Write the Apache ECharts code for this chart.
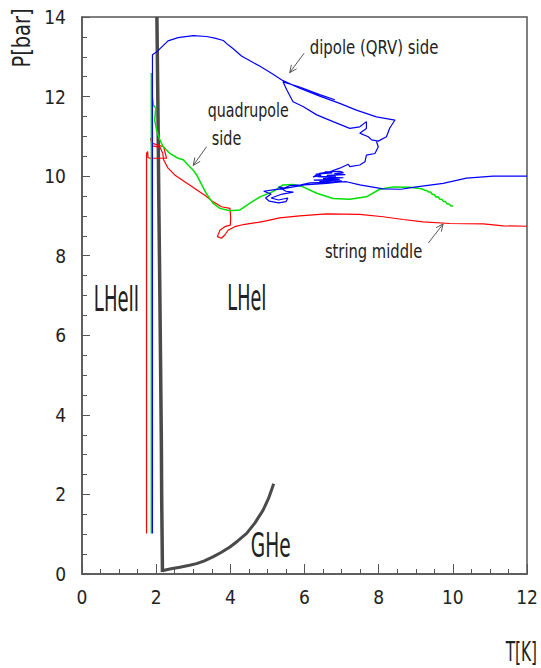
<!DOCTYPE html>
<html>
<head>
<meta charset="utf-8">
<script src="https://cdn.jsdelivr.net/npm/echarts@6/dist/echarts.min.js"></script>
<style>
  html, body { margin: 0; padding: 0; background: #fff; }
  #chart { width: 541px; height: 668px; }
</style>
</head>
<body>
<div id="chart"></div>
<script>
// ---------------- data (T in K, P in bar) ----------------
const xTicks = [0, 2, 4, 6, 8, 10, 12];
const yTicks = [0, 2, 4, 6, 8, 10, 12, 14];

const lambdaLine = [[2.17,0.05],[2.15,1.8],[2.14,3.3],[2.10,7.0],[2.07,9.5],[2.05,11.5],[2.02,14.0]];

const gheCurve = [[2.17,0.06],[2.19,0.09],[2.40,0.13],[2.64,0.17],[2.90,0.22],[3.09,0.26],[3.30,0.33],
  [3.53,0.43],[3.75,0.54],[3.99,0.68],[4.20,0.83],[4.44,1.02],[4.66,1.28],[4.88,1.60],[5.03,1.90],[5.17,2.27]];

const stringMiddle = [
  [1.74,1.02],[1.74,10.57],[1.77,10.62],[1.78,10.47],[1.83,10.45],[2.28,10.45],[2.20,10.74],[1.88,10.83],
  [1.85,10.96],[1.89,10.76],[2.10,10.73],[2.18,10.57],[2.20,10.41],[2.32,10.20],[2.50,10.03],[2.77,9.86],
  [3.04,9.69],[3.31,9.52],[3.53,9.36],[3.76,9.23],[3.99,9.19],[4.01,8.94],[4.00,8.77],[3.85,8.73],
  [3.72,8.64],[3.65,8.48],[3.76,8.44],[3.85,8.52],[3.94,8.64],[4.12,8.73],[4.39,8.79],[4.75,8.84],
  [4.93,8.87],[5.33,8.95],[5.87,9.00],[6.59,9.05],[7.49,9.04],[8.12,8.98],[8.66,8.91],[9.20,8.85],
  [9.92,8.81],[10.82,8.80],[11.36,8.75],[12.0,8.74]
];

const quadrupoleSide = [
  [1.87,1.02],[1.87,12.59],[1.89,12.04],[1.92,11.79],[1.99,11.71],[1.96,11.41],[2.01,11.16],[2.10,10.91],
  [2.18,10.75],[2.37,10.57],[2.59,10.45],[2.73,10.41],[2.86,10.28],[3.00,10.15],[3.09,10.03],[3.22,9.80],
  [3.36,9.55],[3.53,9.32],[3.72,9.19],[3.99,9.13],[4.26,9.15],[4.53,9.32],[4.80,9.48],[5.15,9.61],
  [5.42,9.78],[5.69,9.79],[5.96,9.73],[6.33,9.57],[6.77,9.44],[7.22,9.42],[7.67,9.48],[8.03,9.67],
  [8.39,9.73],[8.84,9.72],[9.11,9.69],[9.20,9.67],[9.25,9.64],[9.30,9.64],[9.35,9.60],[9.40,9.60],
  [9.45,9.54],[9.50,9.54],[9.55,9.47],[9.60,9.48],[9.65,9.42],[9.70,9.42],[9.75,9.36],[9.80,9.36],
  [9.85,9.30],[9.90,9.30],[9.95,9.25],[10.01,9.25]
];

const dipoleSideRise = [
  [1.90,1.02],[1.90,13.05],[2.02,13.13],[2.32,13.40],[2.59,13.48],[3.00,13.53],[3.36,13.51],[3.58,13.47],
  [3.81,13.41],[3.94,13.30],[4.07,13.21],[4.30,13.02],[4.53,12.90],[4.80,12.76],[5.12,12.58],[5.42,12.40],
  [5.87,12.21],[6.41,12.01],[6.95,11.83],[7.40,11.66],[7.94,11.49],[8.44,11.41],
  [8.30,11.21],[8.21,10.99],[7.99,10.88],[7.81,10.91],[7.72,10.99],[7.49,11.08],[7.67,11.20],[7.67,11.37],
  [7.49,11.24],[7.22,11.20],[6.77,11.37],[6.33,11.54],[5.96,11.75],[5.69,11.87],[5.52,12.17],[5.42,12.37],
  [5.87,12.24],[6.41,12.05],[6.82,11.92]
];

const dipoleSideFall = [
  [7.94,10.87],[7.99,10.74],[7.90,10.57],[7.67,10.53],[7.63,10.36],[7.49,10.28],[7.22,10.24],[7.18,10.30],
  [6.95,10.20],[6.68,10.11],[6.41,10.07],[6.23,9.98],[6.45,10.02],[6.30,10.05],[6.75,10.08],[6.55,10.11],
  [6.95,10.12],[7.05,10.09],[6.80,10.06],[7.10,10.04],[6.60,10.02],[6.85,10.00],[6.35,9.99],[6.70,9.97],
  [7.05,9.96],[6.50,9.94],[6.95,9.92],[6.25,9.90],[6.65,9.89],[7.00,9.88],[6.40,9.86],[6.80,9.85],
  [6.15,9.83],[5.90,9.78],[5.60,9.76],[5.45,9.70],[5.30,9.73],[5.50,9.62],[5.70,9.60],[5.40,9.55],
  [5.25,9.50],[5.10,9.45],[5.30,9.40],[5.55,9.45],[5.50,9.36],[5.30,9.33],[5.05,9.37],[4.95,9.45],
  [5.10,9.55],[4.90,9.62],[5.20,9.66],[5.40,9.68],[5.70,9.73],[6.00,9.78],[6.30,9.80],[6.60,9.82],
  [6.90,9.85],[7.13,9.86],[7.49,9.78],[8.12,9.68],[8.60,9.67],[9.02,9.73],[9.74,9.82],[10.37,9.95],
  [11.09,10.00],[12.0,10.00]
];

// annotation texts anchored in data coordinates (T, P)
const noteTexts = ['dipole (QRV) side', 'quadrupole', 'side', 'string middle', 'LHeII', 'LHeI', 'GHe'];
const noteT     = [6.14, 3.39, 3.50, 6.55, 0.32, 3.92, 4.55];
const noteP     = [13.25, 11.66, 10.96, 8.12, 6.92, 6.92, 0.72];

// arrows: from (T,P) to (T,P)
const arrowFrom = [[5.99,13.09],[3.36,10.74],[9.34,8.32]];
const arrowTo   = [[5.60,12.60],[3.00,10.27],[9.74,8.80]];

// ---------------- styling ----------------
const FONT = "'Liberation Sans Narrow', 'DejaVu Sans Condensed', 'Liberation Sans', sans-serif";
const noteStyle = [
  {size: 20, sx: 0.83, sy: 1.0}, {size: 20, sx: 0.79, sy: 1.0}, {size: 20, sx: 0.8, sy: 1.0}, {size: 20, sx: 0.82, sy: 1.0},
  {size: 22, sx: 0.91, sy: 1.6}, {size: 22, sx: 0.89, sy: 1.6}, {size: 23, sx: 0.9, sy: 1.5}
];
const AXIS_COLOR = '#555';

const chart = echarts.init(document.getElementById('chart'), null, {renderer: 'svg'});

function lineSeries(data, color, width) {
  return {
    type: 'line', data: data, showSymbol: false, symbol: 'none',
    lineStyle: {color: color, width: width}, itemStyle: {color: color},
    animation: false, silent: true, clip: true
  };
}

const option = {
  backgroundColor: '#fff',
  animation: false,
  grid: {left: 82, right: 14, top: 17, bottom: 94, show: true, borderColor: AXIS_COLOR, borderWidth: 1.5, backgroundColor: 'transparent'},
  xAxis: {
    type: 'value', min: 0, max: 12, interval: 2,
    axisLine: {show: true, onZero: false, lineStyle: {color: AXIS_COLOR, width: 1.5}},
    axisTick: {show: true, inside: true, length: 10, lineStyle: {color: AXIS_COLOR, width: 1}},
    minorTick: {show: true, splitNumber: 4, length: 5, lineStyle: {color: AXIS_COLOR, width: 1}},
    splitLine: {show: false},
    axisLabel: {margin: 13, color: '#222', fontFamily: FONT, fontSize: 19,
      formatter: v => (xTicks.indexOf(v) >= 0 ? String(v) : '')}
  },
  yAxis: {
    type: 'value', min: 0, max: 14, interval: 2,
    axisLine: {show: true, onZero: false, lineStyle: {color: AXIS_COLOR, width: 1.5}},
    axisTick: {show: true, inside: true, length: 8, lineStyle: {color: AXIS_COLOR, width: 1}},
    minorTick: {show: true, splitNumber: 4, length: 5, lineStyle: {color: AXIS_COLOR, width: 1}},
    splitLine: {show: false},
    axisLabel: {margin: 16, color: '#222', fontFamily: FONT, fontSize: 19,
      formatter: v => (yTicks.indexOf(v) >= 0 ? String(v) : '')}
  },
  series: [
    lineSeries(lambdaLine, '#4a4a4a', 3.5),
    lineSeries(gheCurve, '#4a4a4a', 3),
    lineSeries(stringMiddle, '#ff0000', 1.2),
    lineSeries(quadrupoleSide, '#00e000', 1.5),
    lineSeries(dipoleSideRise, '#0000ff', 1.2),
    lineSeries(dipoleSideFall, '#0000ff', 1.2)
  ]
};
chart.setOption(option);

// ---------- annotations via the chart's own coordinate conversion ----------
const toPx = (t, p) => chart.convertToPixel({gridIndex: 0}, [t, p]);
const graphics = [];
noteTexts.forEach((txt, i) => {
  const pt = toPx(noteT[i], noteP[i]);
  graphics.push({
    type: 'text', x: pt[0], y: pt[1], scaleX: noteStyle[i].sx, scaleY: noteStyle[i].sy, z: 100,
    style: {text: txt, fill: '#222', fontFamily: FONT, fontSize: noteStyle[i].size,
      align: 'left', verticalAlign: 'middle'}
  });
});
arrowFrom.forEach((from, i) => {
  const a = toPx(from[0], from[1]);
  const b = toPx(arrowTo[i][0], arrowTo[i][1]);
  const dx = a[0] - b[0], dy = a[1] - b[1];
  const len = Math.hypot(dx, dy);
  const ux = dx / len, uy = dy / len;
  const hl = 8, ang = 0.42;
  const c = Math.cos(ang), s = Math.sin(ang);
  const h1 = [b[0] + hl * (ux * c - uy * s), b[1] + hl * (ux * s + uy * c)];
  const h2 = [b[0] + hl * (ux * c + uy * s), b[1] + hl * (-ux * s + uy * c)];
  graphics.push({type: 'polyline', z: 100, shape: {points: [a, b]}, style: {stroke: '#555', lineWidth: 1, fill: null}});
  graphics.push({type: 'polyline', z: 100, shape: {points: [h1, b, h2]}, style: {stroke: '#555', lineWidth: 1, fill: null}});
});
// axis titles
graphics.push({
  type: 'text', x: 22, y: 38, rotation: Math.PI / 2, scaleX: 0.9, z: 100,
  style: {text: 'P[bar]', fill: '#222', fontFamily: FONT, fontSize: 24, align: 'center', verticalAlign: 'middle'}
});
graphics.push({
  type: 'text', x: 537, y: 651, scaleX: 0.85, scaleY: 1.35, z: 100,
  style: {text: 'T[K]', fill: '#222', fontFamily: FONT, fontSize: 20, align: 'right', verticalAlign: 'middle'}
});
chart.setOption({graphic: graphics});
</script>
</body>
</html>
